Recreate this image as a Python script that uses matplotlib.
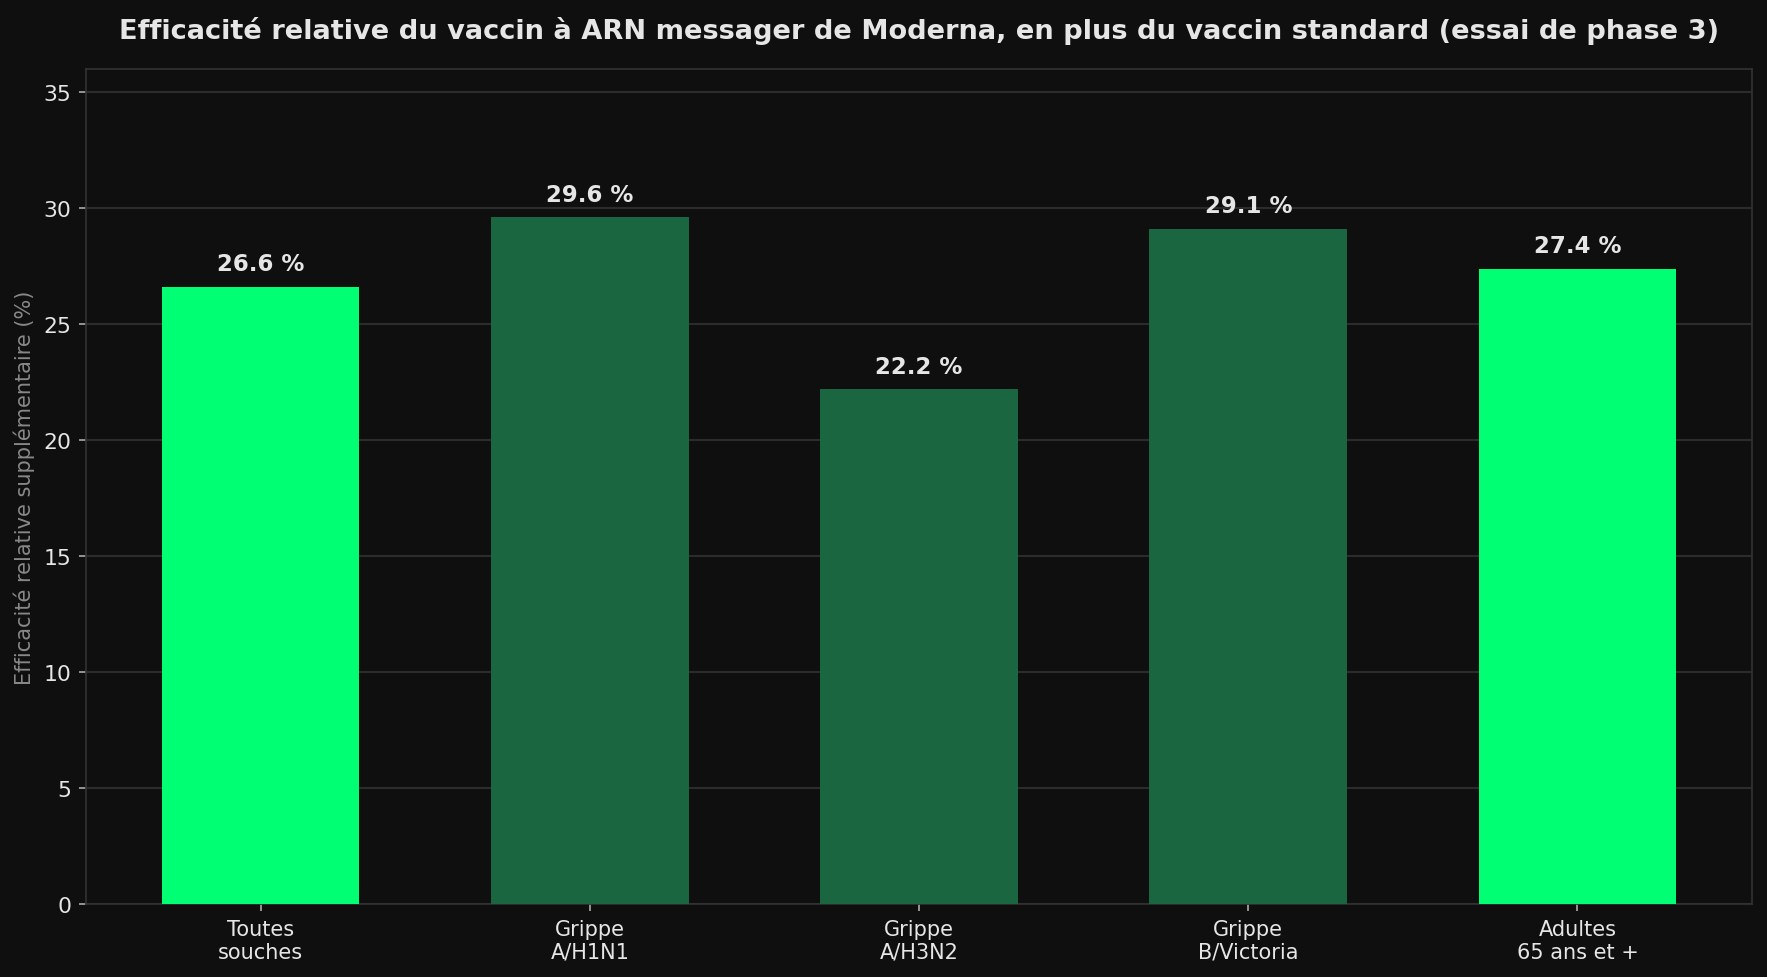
import matplotlib.pyplot as plt

categories = ["Toutes\nsouches", "Grippe\nA/H1N1", "Grippe\nA/H3N2", "Grippe\nB/Victoria", "Adultes\n65 ans et +"]
values = [26.6, 29.6, 22.2, 29.1, 27.4]
highlight = [True, False, False, False, True]

bg = "#0f0f0f"
bright = "#00ff73"
dark = "#1a6640"
text_col = "#e6e6e6"

fig, ax = plt.subplots(figsize=(11.78, 6.52), dpi=150)
fig.patch.set_facecolor(bg)
ax.set_facecolor(bg)
fig.subplots_adjust(left=0.0487, right=0.9915, top=0.9284, bottom=0.0746)

colors = [bright if h else dark for h in highlight]
x = range(len(categories))
ax.bar(x, values, width=0.6, color=colors, zorder=3)

for xi, v in zip(x, values):
    ax.text(xi, v + 0.5, f"{v:.1f} %", ha="center", va="bottom",
            color=text_col, fontsize=11, fontweight="bold", zorder=4)

ax.set_ylim(0, 36)
ax.set_xticks(list(x))
ax.set_xticklabels(categories, fontsize=10, color=text_col)
ax.tick_params(axis="y", labelsize=10.5, colors=text_col)
ax.tick_params(axis="both", color="#aaaaaa", length=3.5)
ax.yaxis.grid(True, color="#2c2c2c", linewidth=1, zorder=0)
ax.set_axisbelow(True)
for s in ax.spines.values():
    s.set_color("#333333")

ax.set_ylabel("Efficacité relative supplémentaire (%)", color="#888888", fontsize=10)
ax.set_title("Efficacité relative du vaccin à ARN messager de Moderna, en plus du vaccin standard (essai de phase 3)",
             color=text_col, fontsize=13.1, fontweight="bold", pad=15)

fig.savefig("out.png", dpi=150, facecolor=bg)
